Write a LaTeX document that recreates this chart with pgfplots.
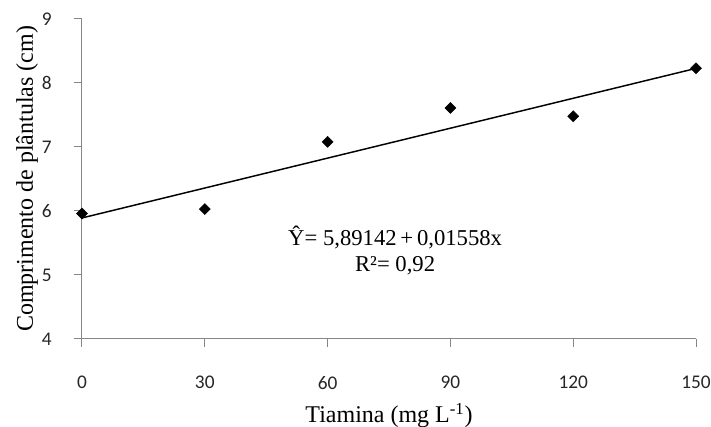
\documentclass[border=0pt]{standalone}
\usepackage{fontspec}
\setmainfont{Liberation Serif}
\newfontfamily\carlito{Carlito}
\usepackage{pgfplots}
\pgfplotsset{compat=1.18}
\usetikzlibrary{calc}
\definecolor{axgray}{HTML}{868686}
\begin{document}
\begin{tikzpicture}
\begin{axis}[
  name=ax,
  scale only axis, width=460.5pt, height=240pt,
  xmin=0, xmax=150, ymin=4, ymax=9,
  xtick={0,30,60,90,120,150}, ytick={4,5,6,7,8,9},
  axis x line*=bottom, axis y line*=left,
  axis line style={draw=axgray, line width=0.75pt},
  tick style={draw=axgray, line width=0.75pt},
  tick align=outside, major tick length=6pt,
  /pgf/number format/assume math mode=true,
  ticklabel style={font=\carlito\fontsize{14.5}{17}\selectfont, text=black!85},
  yticklabel style={anchor=east, inner sep=0pt, xshift=-16.5pt},
  xticklabel style={anchor=north, inner sep=0pt, yshift=-21.75pt},
  xlabel={Tiamina (mg L\textsuperscript{-1})},
  ylabel={Comprimento de plântulas (cm)},
  xlabel style={at={(axis description cs:0.5,-0.2625)}, anchor=base, font=\fontsize{18}{20}\selectfont},
  ylabel style={at={(axis description cs:-0.0798,0.5)}, anchor=base, font=\fontsize{18}{20}\selectfont},
  clip=false,
]
\addplot[black, line width=1.1pt, no marks] coordinates {(0,5.89142) (150,8.22842)};
\addplot[only marks, mark=square*, mark size=2.9pt, mark options={rotate=45, fill=black, draw=black}] coordinates {
  (0,5.96) (30,6.03) (60,7.08) (90,7.61) (120,7.48) (150,8.23)};
\node[align=center, font=\fontsize{17}{19.5}\selectfont] at (axis cs:76.5,5.39) {Ŷ= 5,89142\,+\,0,01558x\\R²= 0,92};
\end{axis}
\pgfresetboundingbox
\useasboundingbox ($(ax.south west)+(-61.5pt,-66pt)$) rectangle ($(ax.north east)+(11.25pt,14.25pt)$);
\end{tikzpicture}
\end{document}
